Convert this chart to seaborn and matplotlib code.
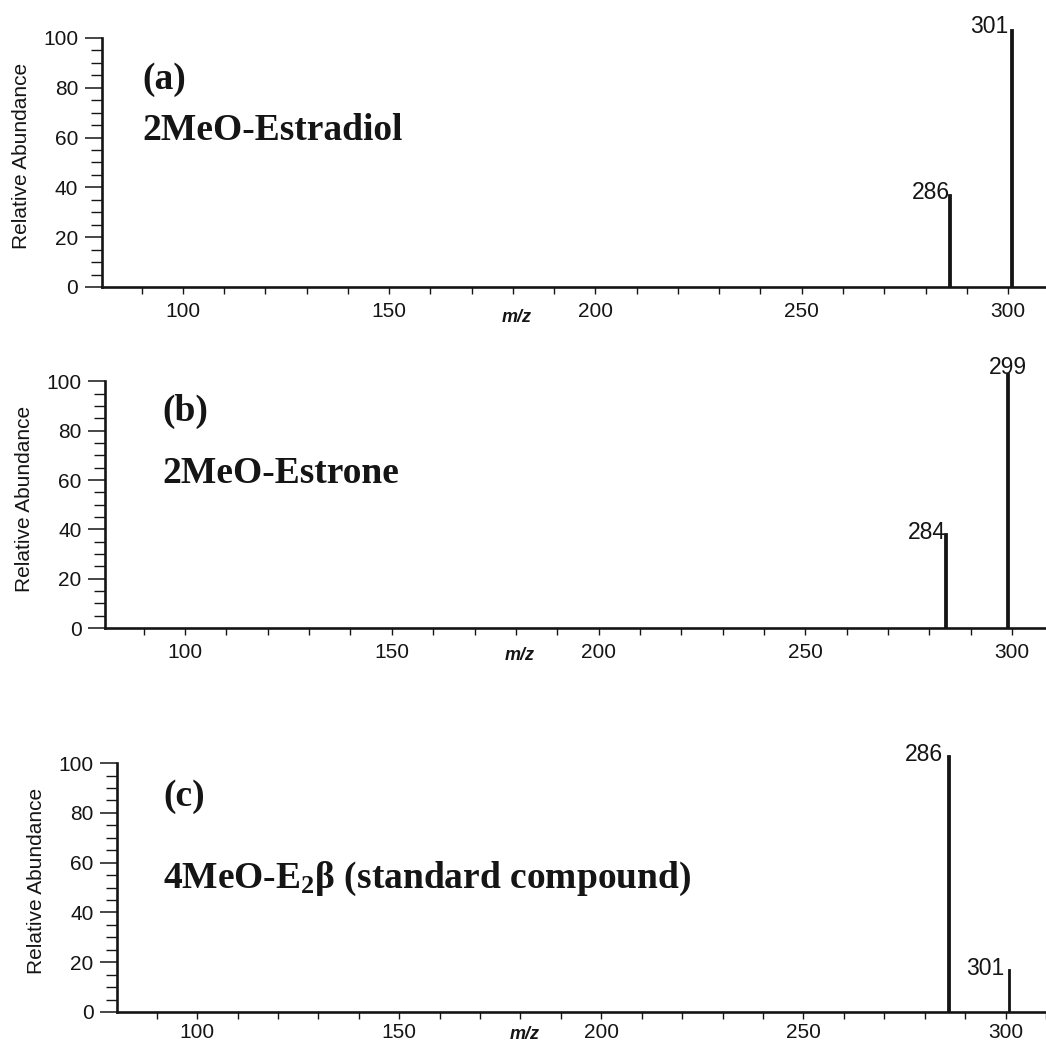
import pandas as pd
import seaborn as sns
import matplotlib.pyplot as plt
from matplotlib.ticker import MultipleLocator, FixedLocator

# picos de cada espectro (m/z y abundancia relativa)
mz_a = [286, 301]
abund_a = [37, 103]
mz_b = [284, 299]
abund_b = [38, 103]
mz_c = [286, 301]
abund_c = [103, 17]

paneles = ["(a)", "(b)", "(c)"]
nombres = ["2MeO-Estradiol", "2MeO-Estrone", "4MeO-E$_2$\u03b2 (standard compound)"]

sns.set_style("ticks")
plt.rcParams['font.family'] = ['Liberation Sans', 'DejaVu Sans']
plt.rcParams['mathtext.fontset'] = 'custom'
plt.rcParams['mathtext.rm'] = 'Liberation Serif:bold'
plt.rcParams['mathtext.it'] = 'Liberation Serif:bold'
plt.rcParams['mathtext.bf'] = 'Liberation Serif:bold'

tinta = '#151515'

fig = plt.figure(figsize=(10.46, 10.45), dpi=100)

# posiciones de los ejes en fracciones de la figura
rects = [
    [0.0975, 0.7254, 0.9025, 0.2502],
    [0.1004, 0.3990, 0.8996, 0.2478],
    [0.1119, 0.0316, 0.8881, 0.2500],
]
xlims = [(80.4, 309.2), (80.65, 308.2), (80.2, 310.0)]
texto_pos = [(90.3, 83.5, 62.7), (94.4, 87.9, 62.8), (91.6, 86.8, 53.6)]
mz_offset = [-22, -19.5, -16]
xpad = [6, 6, 3]

# como se colocan las etiquetas de los picos: (ha, dx, dy) en puntos
etiquetas = [
    [("right", 0, 2), ("right", -3, 3)],
    [("right", 0, 1), ("center", 0, 4.5)],
    [("right", -4, 1), ("right", -4, 1)],
]

datos = [(mz_a, abund_a), (mz_b, abund_b), (mz_c, abund_c)]

for i, (mz, ab) in enumerate(datos):
    ax = fig.add_axes(rects[i])
    df = pd.DataFrame({'mz': mz, 'abund': ab})

    sns.histplot(data=df, x='mz', weights='abund', discrete=True, shrink=0.4,
                 color=tinta, alpha=1, linewidth=1.3, edgecolor=tinta, ax=ax)
    # quitamos las barras vacias entre picos
    for p in list(ax.patches):
        if p.get_height() == 0:
            p.remove()

    ax.set_xlim(*xlims[i])
    ax.set_ylim(0, 105)
    sns.despine(ax=ax)
    ax.spines['left'].set_bounds(0, 100)
    for s in ['left', 'bottom']:
        ax.spines[s].set_linewidth(1.9)
        ax.spines[s].set_color(tinta)

    ax.xaxis.set_major_locator(MultipleLocator(50))
    ax.xaxis.set_minor_locator(MultipleLocator(10))
    ax.yaxis.set_major_locator(FixedLocator(list(range(0, 101, 20))))
    ax.yaxis.set_minor_locator(FixedLocator(list(range(0, 101, 5))))
    ax.tick_params(axis='x', which='both', length=5, width=1, pad=xpad[i],
                   labelsize=15, colors=tinta)
    ax.tick_params(axis='y', which='major', length=12, width=1.1, pad=5,
                   labelsize=15, colors=tinta)
    ax.tick_params(axis='y', which='minor', length=8, width=1, colors=tinta)

    ax.set_xlabel('')
    ax.set_ylabel('Relative Abundance', fontsize=15, color=tinta, labelpad=9)

    ax.annotate('m/z', xy=(181, 0), xycoords=('data', 'axes fraction'),
                xytext=(0, mz_offset[i]), textcoords='offset points', ha='center',
                va='center', fontsize=13, fontweight='bold', fontstyle='italic',
                color=tinta)

    # etiquetas de los picos
    for (x, y), (ha, dx, dy) in zip(zip(mz, ab), etiquetas[i]):
        ax.annotate(str(x), xy=(x, y), xytext=(dx, dy), textcoords='offset points',
                    ha=ha, va='center', fontsize=16.5, color=tinta)

    tx, ty1, ty2 = texto_pos[i]
    ax.text(tx, ty1, paneles[i], family='Liberation Serif', fontweight='bold',
            fontsize=27, va='center', ha='left', color=tinta)
    ax.text(tx, ty2, nombres[i], family='Liberation Serif', fontweight='bold',
            fontsize=27, va='center', ha='left', color=tinta)

plt.savefig('out.png', dpi=100)
